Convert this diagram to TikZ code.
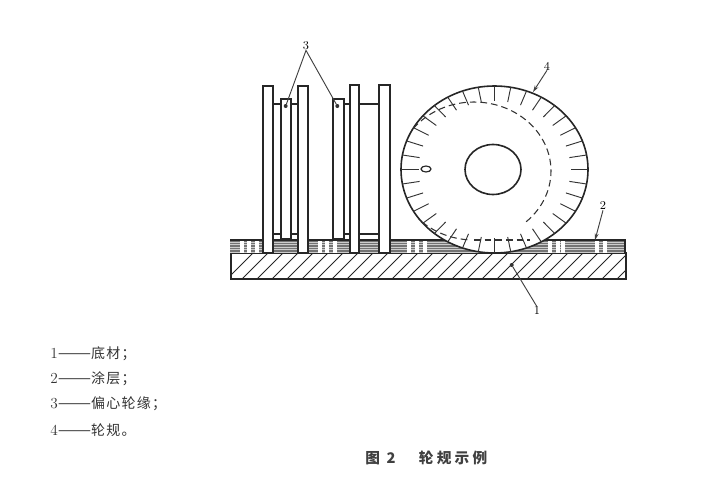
\documentclass[tikz,border=0pt]{standalone}
\usepackage{fontspec}
\usepackage{graphicx}
\newfontfamily\cjk{Noto Sans CJK SC}
\newfontfamily\cjkleg[LetterSpace=9]{Noto Sans CJK SC}
\newfontfamily\cjkhead[LetterSpace=22]{Noto Sans CJK SC}
\newcommand{\legdash}{\scalebox{1.3}[1]{\cjk——}}
\usetikzlibrary{arrows.meta}
\tikzset{
 part/.style={draw=black!85,line width=1.2pt,fill=white},
 leader/.style={draw=black!75,line width=0.7pt},
 callout/.style={inner sep=0pt,font=\small},
 legend/.style={anchor=west,inner sep=0pt,font=\fontsize{11.5}{13}\selectfont,text=black!80},
 dotend/.style={circle,fill=black!80,inner sep=0pt,minimum size=3pt}
}
\begin{document}
\begin{tikzpicture}[x=0.75pt,y=-0.75pt]
 \useasboundingbox (0,0) rectangle (713,478);
 % substrate
 \begin{scope}
  \clip (231,253) rectangle (626,279);
  \foreach \hx in {227,242,...,627}
   \draw[black!85,line width=0.6pt] (\hx,279)--(\hx+26,253);
 \end{scope}
 \draw[draw=black!85,line width=1.1pt] (231,253) rectangle (626,279);
 % coating
 \fill[black!55] (230,240) rectangle (625,253);
 \foreach \ly in {242,244.5,...,252}
  \draw[black!20,line width=0.4pt] (230,\ly)--(625,\ly);
 \foreach \bx in {240,247,255,318,325,333,407,415,423,548,556,561,595,603}
  \fill[white] (\bx,240) rectangle (\bx+3.5,253);
 \draw[black!85,line width=1pt] (230,240)--(625,240)--(625,253);
 % wheel
 \draw[part] (494.5,169.5) ellipse[x radius=93.5,y radius=83.5];
 \foreach \ang in {0,10,...,350}
  \draw[black!80,line width=0.7pt] ({494.5+93.5*cos(\ang)},{169.5+83.5*sin(\ang)})--({494.5+76*cos(\ang)},{169.5+68.5*sin(\ang)});
 \draw[black!80,line width=0.8pt,dash pattern=on 5pt off 3pt,domain=-142:48,samples=60] plot ({474+77*cos(\x)},{171+69*sin(\x)});
 \draw[black!80,line width=0.8pt,dash pattern=on 5pt off 3pt,domain=95:136,samples=20] plot ({474+77*cos(\x)},{171+69*sin(\x)});
 \draw[black!80,line width=0.8pt,dash pattern=on 5pt off 3pt] (474,240)--(530,240);
 \draw[draw=black!85,line width=1.2pt] (493,169.5) ellipse[x radius=28,y radius=25];
 \draw[draw=black!85,line width=0.9pt] (426,169) ellipse[x radius=5,y radius=3];
 % gauge lines between the walls
 \draw[black!85,line width=0.8pt] (273,104)--(298,104);
 \draw[black!85,line width=0.8pt] (273,234)--(298,234);
 \draw[black!85,line width=0.8pt] (344,104)--(350,104);
 \draw[black!85,line width=0.8pt] (344,234)--(350,234);
 \draw[black!85,line width=0.8pt] (359,104)--(379,104);
 \draw[black!85,line width=0.8pt] (359,234)--(379,234);
 % rims
 \draw[part] (281,239) rectangle (291,99);
 \draw[part] (333,239) rectangle (344,99);
 % walls
 \draw[part] (263,253) rectangle (273,86);
 \draw[part] (298,253) rectangle (308,86);
 \draw[part] (350,253) rectangle (359,85);
 \draw[part] (379,253) rectangle (390,85);
 % callouts
 \node[callout] (lab3) at (306,46) {3};
 \node[dotend] (rimA) at (285.7,106) {};
 \node[dotend] (rimB) at (337.3,106) {};
 \draw[leader] (lab3.south)--(rimA);
 \draw[leader] (lab3.south)--(rimB);
 \node[callout] (lab4) at (547,66) {4};
 \coordinate (edgeW) at (533,92);
 \draw[leader,-{Stealth[length=5pt,width=3pt]}] (lab4.south)--(edgeW);
 \node[callout] (lab2) at (603,206) {2};
 \coordinate (edgeC) at (595,240);
 \draw[leader,-{Stealth[length=5pt,width=3pt]}] (lab2.south)--(edgeC);
 \node[callout] (lab1) at (537,311) {1};
 \node[dotend] (subD) at (511.7,265) {};
 \draw[leader] (lab1.north)--(subD);
 % legend
 \node[legend] (leg1) at (50,354) {1\legdash{\fontsize{10.5}{12}\selectfont\cjkleg 底材；}};
 \node[legend] (leg2) at (50,379) {2\legdash{\fontsize{10.5}{12}\selectfont\cjkleg 涂层；}};
 \node[legend] (leg3) at (50,404) {3\legdash{\fontsize{10.5}{12}\selectfont\cjkleg 偏心轮缘；}};
 \node[legend] (leg4) at (50,430) {4\legdash{\fontsize{10.5}{12}\selectfont\cjkleg 轮规。}};
 \node[anchor=west,inner sep=0pt,font=\fontsize{11}{13}\selectfont\bfseries,text=black!75] (cap) at (365,458) {\cjkhead 图 2\hspace{1.6em}轮规示例};
\end{tikzpicture}
\end{document}
